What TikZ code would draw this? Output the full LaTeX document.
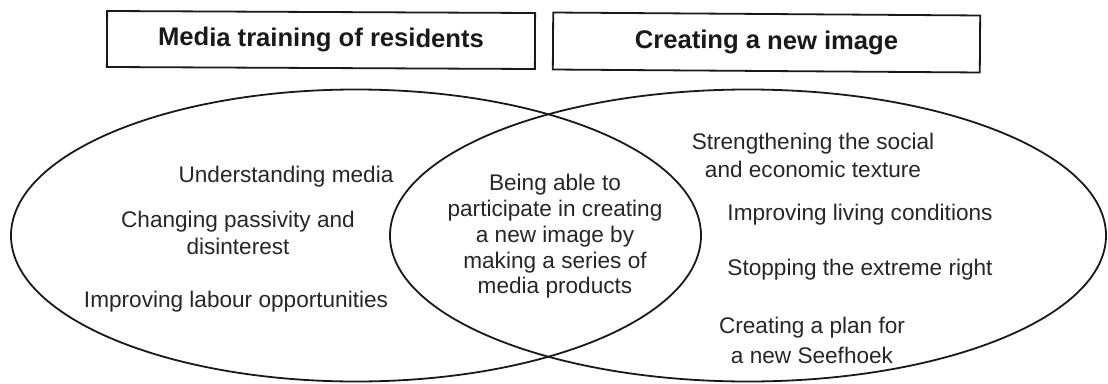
\documentclass[tikz,border=0pt]{standalone}
\usepackage{fontspec}
\setmainfont{Liberation Sans}
\begin{document}
\begin{tikzpicture}[x=1pt,y=-1pt,
  titlebox/.style={draw=black!90,line width=1.8pt,inner sep=0pt,text=black!90,font=\fontsize{25.6}{30}\selectfont\bfseries},
  txt/.style={align=center,inner sep=0pt,text=black!85,font=\fontsize{22.6}{26.5}\selectfont},
  venn/.style={draw=black!90,line width=1.8pt}]
\useasboundingbox (0,0) rectangle (1108,383);
\node[titlebox,minimum width=428pt,minimum height=56pt,rotate=-0.27] (t1) at (321,40) {Media training of residents};
\node[titlebox,minimum width=427pt,minimum height=57pt,rotate=-0.4] (t2) at (766.5,42.5) {Creating a new image};
\draw[venn] (356,235.5) ellipse [x radius=345, y radius=146];
\draw[venn] (748,235.5) ellipse [x radius=358, y radius=146];
\node[txt] (l1) at (286,177) {Understanding media};
\node[txt] (l2) at (238,233) {Changing passivity and\\disinterest};
\node[txt] (l3) at (236,302) {Improving labour opportunities};
\node[txt,font=\fontsize{22.6}{25.7}\selectfont] (m) at (555,236.5) {Being able to\\participate in creating\\a new image by\\making a series of\\media products};
\node[txt,font=\fontsize{22.6}{28}\selectfont] (r1) at (813,155) {Strengthening the social\\and economic texture};
\node[txt] (r2) at (860,215) {Improving living conditions};
\node[txt] (r3) at (860,270) {Stopping the extreme right};
\node[txt,font=\fontsize{22.6}{30}\selectfont] (r4) at (812,340) {Creating a plan for\\a new Seefhoek};
\end{tikzpicture}
\end{document}
